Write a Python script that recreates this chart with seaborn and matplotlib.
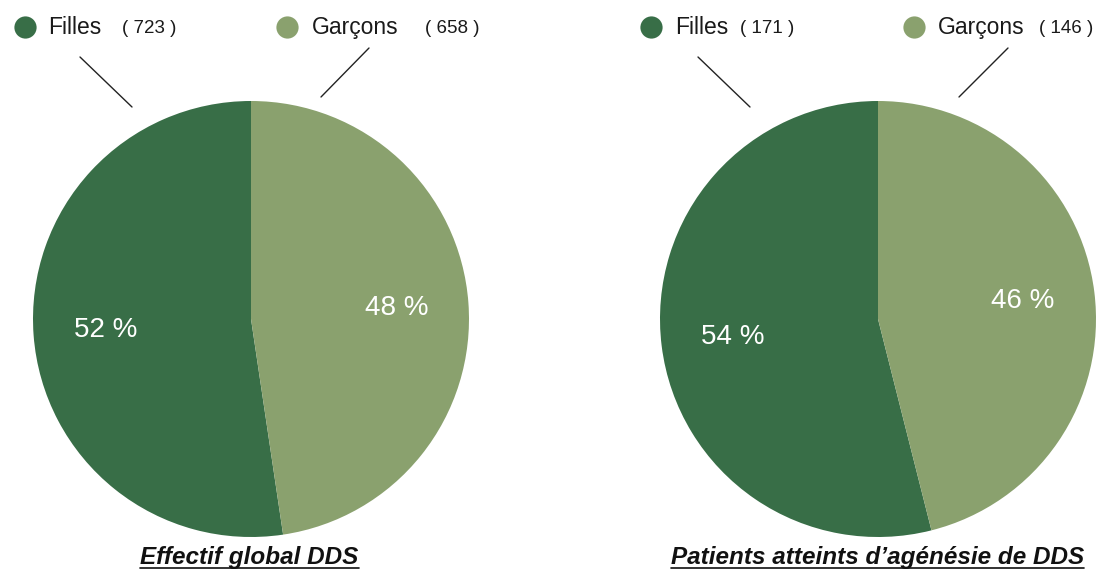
import matplotlib
matplotlib.use("Agg")
import matplotlib.pyplot as plt
from matplotlib import font_manager
import seaborn as sns

# data
labels = ["Filles", "Garçons"]
global_counts = [723, 658]
agenesie_counts = [171, 146]
panel_titles = ["Effectif global DDS", "Patients atteints d’agénésie de DDS"]
colors = ["#386e47", "#8aa16e"]

sns.set_theme(style="white")
plt.rcParams['font.family'] = ['Liberation Sans', 'DejaVu Sans']

installed = {f.name for f in font_manager.fontManager.ttflist}
title_family = 'Liberation Sans Narrow' if 'Liberation Sans Narrow' in installed else 'Liberation Sans'

W, H = 1102, 571
fig = plt.figure(figsize=(W / 100, H / 100), dpi=100)

# pie boxes in pixels: left, top, size
pie_boxes = [(33, 101, 436), (660, 101, 436)]

for (x0, y0, size), counts in zip(pie_boxes, [global_counts, agenesie_counts]):
    ax = fig.add_axes([x0 / W, (H - y0 - size) / H, size / W, size / H])
    wedges, texts, autotexts = ax.pie(
        counts, colors=colors, startangle=90, counterclock=True,
        autopct='%.0f %%', pctdistance=0.67,
        wedgeprops=dict(linewidth=0, edgecolor='none'),
        textprops=dict(color='white', fontsize=20),
    )
    ax.set_xlim(-1, 1)
    ax.set_ylim(-1, 1)
    ax.set_aspect('equal')

# overlay in pixel coordinates for headers, leader lines and titles
ov = fig.add_axes([0, 0, 1, 1], zorder=5)
ov.set_xlim(0, W)
ov.set_ylim(H, 0)
ov.axis('off')

headers = [
    # marker x, text x, count x, y
    [(25, 48, 122, 27), (287, 312, 425, 27)],
    [(651, 675, 740, 27), (914, 938, 1039, 27)],
]
leaders = [
    [((80, 57), (132, 107)), ((369, 48), (321, 97))],
    [((698, 57), (750, 107)), ((1008, 48), (959, 97))],
]
title_x = [249.5, 877.5]

for p, counts in enumerate([global_counts, agenesie_counts]):
    for i, lab in enumerate(labels):
        mx, tx, cx, y = headers[p][i]
        ov.plot([mx], [y], 'o', ms=16, color=colors[i], mec='none')
        ov.text(tx, y + 7, lab, fontsize=16.5, va='baseline', ha='left', color='#1a1a1a')
        ov.text(cx, y + 6, f"( {counts[i]} )", fontsize=13.5, va='baseline', ha='left', color='#1a1a1a')
        (ax_, ay_), (bx_, by_) = leaders[p][i]
        ov.plot([ax_, bx_], [ay_, by_], color='#222222', lw=1)

    t = ov.text(title_x[p], 564, panel_titles[p], fontsize=17.5, ha='center', va='baseline',
                fontweight='bold', fontstyle='italic', family=[title_family, 'DejaVu Sans'],
                color='#111111')

fig.canvas.draw()
renderer = fig.canvas.get_renderer()
inv = ov.transData.inverted()
for t in [tx for tx in ov.texts if tx.get_text() in panel_titles]:
    bb = t.get_window_extent(renderer)
    (x_a, _), (x_b, _) = inv.transform([(bb.x0, bb.y0), (bb.x1, bb.y0)])
    ov.plot([x_a, x_b], [568, 568], color='#111111', lw=1.2)

fig.savefig('out.png', dpi=100)
